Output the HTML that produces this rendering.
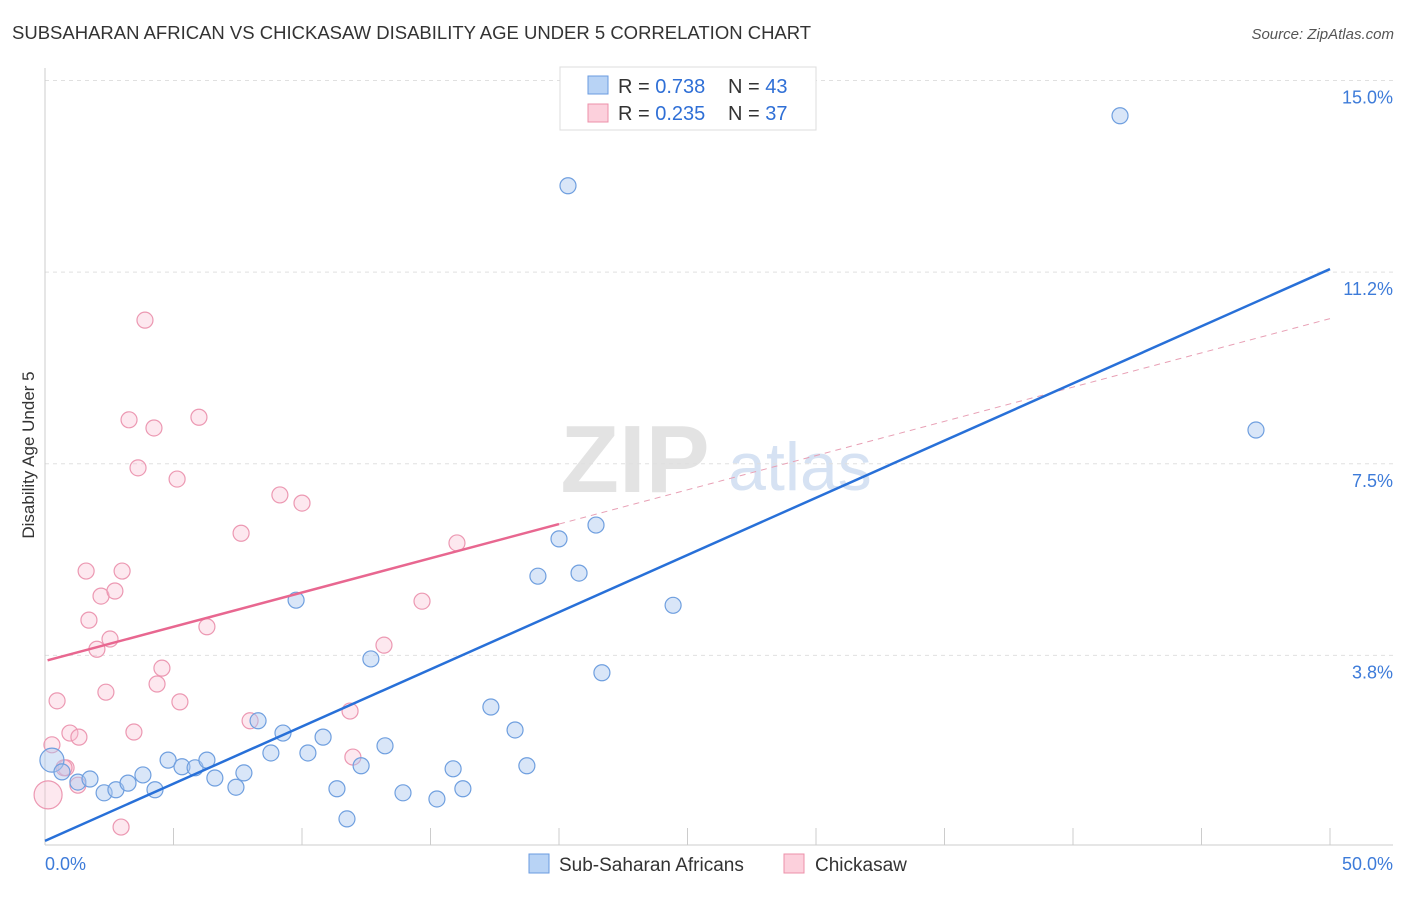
<!DOCTYPE html>
<html><head><meta charset="utf-8"><style>
body{margin:0;background:#fff;font-family:"Liberation Sans",sans-serif}
svg text{font-family:"Liberation Sans",sans-serif}
</style></head><body>
<svg id="chart" width="1406" height="892" xmlns="http://www.w3.org/2000/svg">
<text x="12" y="39" font-size="18.5" fill="#333">SUBSAHARAN AFRICAN VS CHICKASAW DISABILITY AGE UNDER 5 CORRELATION CHART</text>
<text x="1394" y="39" font-size="15" fill="#555" text-anchor="end" font-style="italic">Source: ZipAtlas.com</text>
<g>
<text x="635" y="492" font-size="96" fill="#d8d8d8" font-family="Liberation Serif" text-anchor="middle" font-weight="bold" opacity="0.7">ZIP</text>
<text x="800" y="490" font-size="68" fill="#c5d7ee" text-anchor="middle" opacity="0.7">atlas</text>
</g>
<g id="grid"></g>
<g id="axes"></g>
<g id="marks"></g>
<text transform="translate(34,455) rotate(-90)" font-size="17" fill="#333" text-anchor="middle">Disability Age Under 5</text>
<g>
<rect x="560" y="67" width="256" height="63" fill="#fff" stroke="#ddd"/>
<rect x="588" y="76" width="20" height="18" fill="#b8d3f5" stroke="#6a9be0"/>
<rect x="588" y="104" width="20" height="18" fill="#fcd0dc" stroke="#ec90aa"/>
<text x="618" y="93" font-size="20" fill="#333">R = <tspan fill="#2f6fd6">0.738</tspan></text>
<text x="728" y="93" font-size="20" fill="#333">N = <tspan fill="#2f6fd6">43</tspan></text>
<text x="618" y="120" font-size="20" fill="#333">R = <tspan fill="#2f6fd6">0.235</tspan></text>
<text x="728" y="120" font-size="20" fill="#333">N = <tspan fill="#2f6fd6">37</tspan></text>
</g>
<g>
<rect x="529" y="854" width="20" height="19" fill="#b8d3f5" stroke="#6a9be0"/>
<text x="559" y="871" font-size="19" fill="#333">Sub-Saharan Africans</text>
<rect x="784" y="854" width="20" height="19" fill="#fcd0dc" stroke="#ec90aa"/>
<text x="815" y="871" font-size="19" fill="#333">Chickasaw</text>
</g>
</svg>
<script>
const yTicks=[3.75,7.5,11.25,15.0];
const yTickLabels=["3.8%","7.5%","11.2%","15.0%"];
const xTickLabels=["0.0%","50.0%"];
const blueX=[0.27,0.66,1.28,1.75,2.30,2.76,3.23,3.81,4.28,4.79,5.33,5.84,6.30,6.61,7.43,7.74,8.29,8.79,9.26,9.77,10.23,10.82,11.36,11.75,12.30,12.68,13.23,13.93,15.25,15.88,16.26,17.35,18.29,18.75,19.18,20.00,20.78,21.44,21.67,24.44,20.35,41.83,47.12];
const blueY=[1.70,1.47,1.27,1.33,1.06,1.12,1.25,1.41,1.12,1.70,1.57,1.55,1.70,1.35,1.17,1.45,2.47,1.84,2.23,4.83,1.84,2.15,1.14,0.55,1.59,3.68,1.98,1.06,0.94,1.53,1.14,2.74,2.29,1.59,5.30,6.03,5.36,6.30,3.41,4.73,12.94,14.31,8.16];
const pinkX=[0.12,0.27,0.47,0.82,0.97,1.32,1.60,1.71,2.02,2.18,2.37,2.53,2.72,3.00,2.96,3.27,3.46,3.62,3.89,4.24,4.36,4.55,5.14,5.25,5.99,6.30,7.63,7.98,9.14,10.00,11.87,11.98,13.19,14.67,16.03,1.28,0.74];
const pinkY=[1.02,2.00,2.86,1.55,2.23,2.15,5.40,4.44,3.87,4.91,3.03,4.07,5.01,5.40,0.39,8.36,2.25,7.42,10.31,8.20,3.19,3.50,7.20,2.84,8.41,4.31,6.14,2.47,6.89,6.73,2.66,1.76,3.95,4.81,5.95,1.21,1.55];
const blueTrend=[0.12,11.31];
const pinkTrend=[3.64,10.34];
const pinkSolidEnd=20;
const NS="http://www.w3.org/2000/svg";
const sx=v=>45+v*25.7, sy=v=>847-v*51.1;
function mk(tag,attrs,parent){const e=document.createElementNS(NS,tag);for(const k in attrs)e.setAttribute(k,attrs[k]);document.getElementById(parent).appendChild(e);return e;}
yTicks.forEach((t,i)=>{
 const g=mk('line',{x1:45,x2:1393,y1:sy(t),y2:sy(t),stroke:'#e0e0e0','stroke-dasharray':'4,4'},'grid');
 
 
 const l=mk('text',{x:1393,y:sy(t)+23,'font-size':18,fill:'#3d7bd9','text-anchor':'end'},'axes');
 l.textContent=yTickLabels[i];
 
 
});
const ax=mk('line',{x1:45,x2:45,y1:68,y2:845,stroke:'#ccc'},'axes');


const bx=mk('line',{x1:45,x2:1393,y1:845,y2:845,stroke:'#ccc'},'axes');


for(let i=1;i<=10;i++){
 const t=mk('line',{x1:sx(i*5),x2:sx(i*5),y1:828,y2:845,stroke:'#ccc'},'axes');
 
 
}
[[0,'start',45],[50,'end',1393]].forEach((d,i)=>{
 const l=mk('text',{x:d[2],y:870,'font-size':18,fill:'#3d7bd9','text-anchor':d[1]},'axes');
 l.textContent=xTickLabels[i];
 
 
});
pinkX.forEach((x,i)=>{
 const c=mk('circle',{cx:sx(x),cy:sy(pinkY[i]),r:i==0?14:8,fill:'rgba(248,190,208,0.35)',stroke:'#ec98b2','stroke-width':1.2},'marks');
 
 
});
blueX.forEach((x,i)=>{
 const c=mk('circle',{cx:sx(x),cy:sy(blueY[i]),r:i==0?12:8,fill:'rgba(170,200,240,0.45)',stroke:'#6f9fdf','stroke-width':1.2},'marks');
 
 
});
const pAt=x=>pinkTrend[0]+(pinkTrend[1]-pinkTrend[0])*x/50;
const pd=mk('line',{x1:sx(pinkSolidEnd),y1:sy(pAt(pinkSolidEnd)),x2:sx(50),y2:sy(pAt(50)),stroke:'#e8a0b5','stroke-dasharray':'6,5','stroke-width':1},'marks');


const ps=mk('line',{x1:sx(0.1),y1:sy(pAt(0.1)),x2:sx(pinkSolidEnd),y2:sy(pAt(pinkSolidEnd)),stroke:'#e86790','stroke-width':2.5},'marks');


const bl=mk('line',{x1:sx(0),y1:sy(blueTrend[0]),x2:sx(50),y2:sy(blueTrend[1]),stroke:'#2870d8','stroke-width':2.5},'marks');


</script>
</body></html>
